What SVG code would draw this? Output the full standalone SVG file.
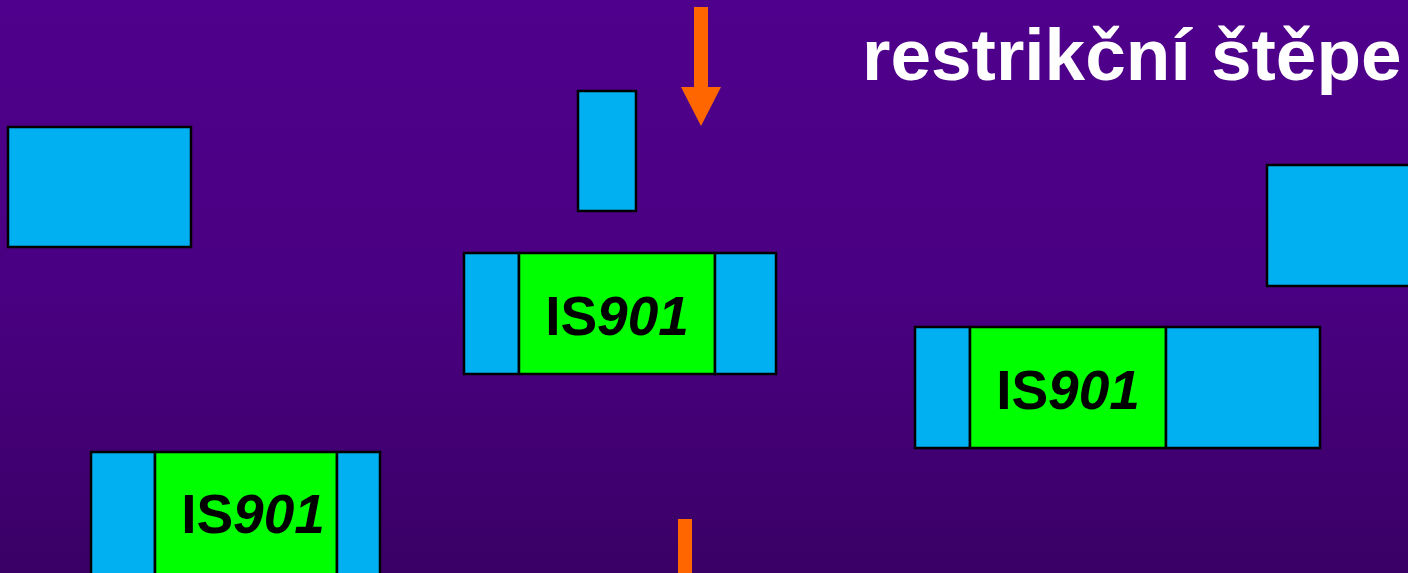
<svg xmlns="http://www.w3.org/2000/svg" width="1408" height="573" viewBox="0 0 1408 573">
<defs>
<linearGradient id="bg" x1="0" y1="0" x2="0" y2="1">
<stop offset="0" stop-color="#4F008C"/>
<stop offset="0.5" stop-color="#4A0082"/>
<stop offset="1" stop-color="#3A0066"/>
</linearGradient>
<style>
.b{fill:#00B0F0;stroke:#000;stroke-width:2.5}
.g{fill:#00FF00;stroke:#000;stroke-width:2.5}
.lab{font-family:"Liberation Sans",Arial,sans-serif;font-weight:bold;font-size:55px;fill:#000;text-anchor:middle}
.it{font-style:italic}
.arr{fill:#FF6600}
.title{font-family:"Liberation Sans",Arial,sans-serif;font-weight:bold;font-size:73px;fill:#FFF}
</style>
</defs>
<rect width="1408" height="573" fill="url(#bg)"/>
<text class="title" x="862" y="80">restrikční štěpe</text>
<g id="frag-left"><rect class="b" x="8" y="127" width="183" height="120"/></g>
<g id="frag-small"><rect class="b" x="578" y="91" width="58" height="120"/></g>
<g id="frag-right"><rect class="b" x="1267" y="165" width="150" height="121"/></g>
<g id="node-mid">
<rect class="b" x="464" y="253" width="55" height="121"/>
<rect class="g" x="519" y="253" width="196" height="121"/>
<rect class="b" x="715" y="253" width="61" height="121"/>
<text class="lab" x="617" y="335">IS<tspan class="it">901</tspan></text>
</g>
<g id="node-right">
<rect class="b" x="915" y="327" width="55" height="121"/>
<rect class="g" x="970" y="327" width="196" height="121"/>
<rect class="b" x="1166" y="327" width="154" height="121"/>
<text class="lab" x="1068" y="409">IS<tspan class="it">901</tspan></text>
</g>
<g id="node-bottom">
<rect class="b" x="91" y="452" width="64" height="125"/>
<rect class="g" x="155" y="452" width="182" height="125"/>
<rect class="b" x="337" y="452" width="43" height="125"/>
<text class="lab" x="253" y="533">IS<tspan class="it">901</tspan></text>
</g>
<g id="connectors">
<polygon class="arr" points="694,7 708,7 708,87 721,87 701,126 681,87 694,87"/>
<rect class="arr" x="678" y="519" width="14" height="60"/>
</g>
</svg>
